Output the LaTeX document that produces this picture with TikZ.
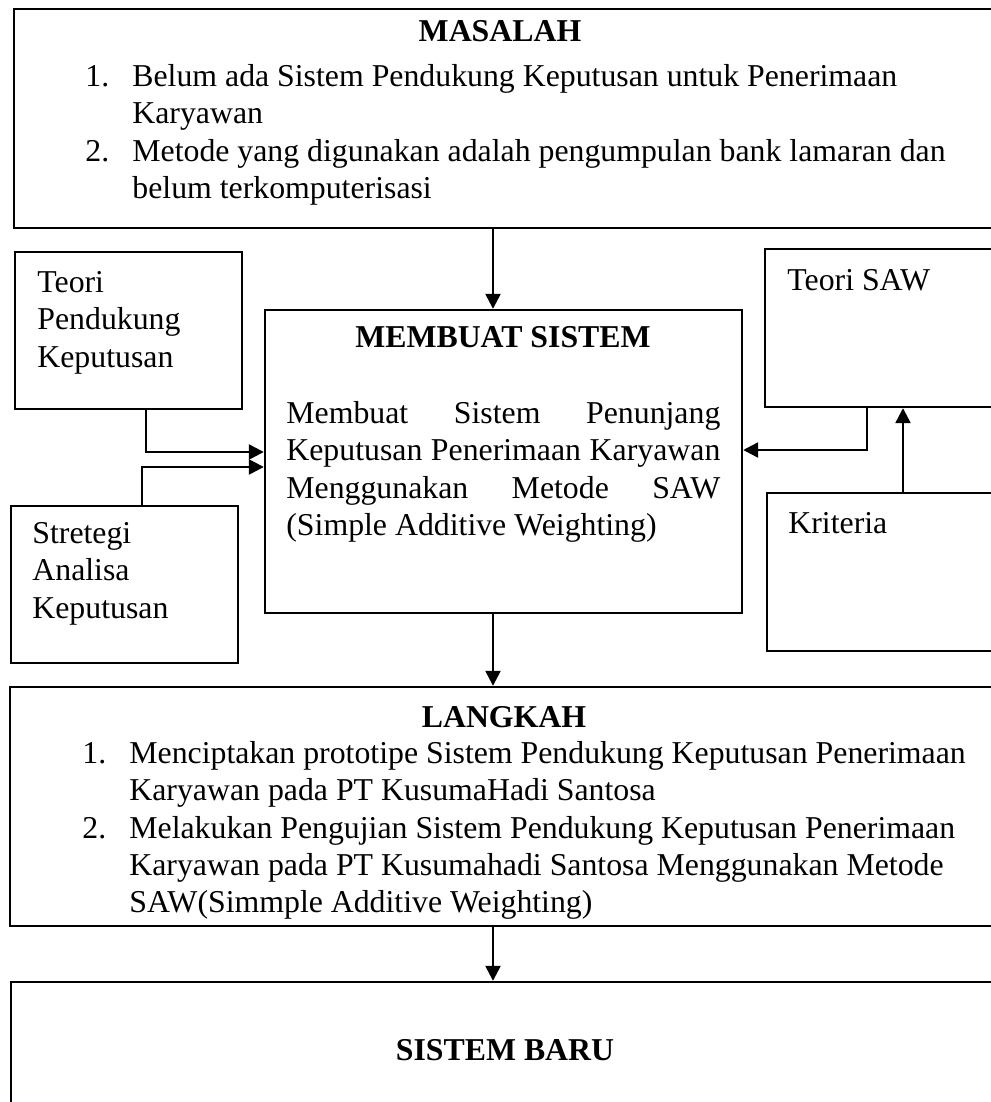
\documentclass[tikz,border=0pt]{standalone}
\usepackage{fontspec}
\setmainfont{Liberation Serif}
\usetikzlibrary{arrows.meta,fit}
\newcommand{\itemno}[1]{\makebox[23.5pt][l]{#1}}
\newcommand{\itemgap}{\hspace*{23.5pt}}

\begin{document}
\begin{tikzpicture}[x=0.5pt, y=-0.5pt,
  frame/.style={draw, line width=1.2pt, inner sep=0pt},
  txt/.style={font=\fontsize{15.9}{18.6}\selectfont, inner sep=0pt, align=left},
  head/.style={font=\fontsize{15.9}{18.6}\selectfont\bfseries, inner sep=0pt},
  arrow/.style={-{Triangle[length=7.5pt,width=7.5pt]}, line width=1.2pt},
]
\useasboundingbox (0,0) rectangle (990,1102);

% Boxes
\node[frame, fit={(14,9) (1000,228)}] (masalah) {};
\node[frame, fit={(15,252) (242,409)}] (teorispk) {};
\node[frame, fit={(11,506) (238,663)}] (stretegi) {};
\node[frame, fit={(265,310) (742,613)}] (membuat) {};
\node[frame, fit={(765,249) (1000,407)}] (teorisaw) {};
\node[frame, fit={(767,493) (1000,651)}] (kriteria) {};
\node[frame, fit={(10,687) (1000,926)}] (langkah) {};
\node[frame, fit={(11,982) (1000,1110)}] (baru) {};

% Texts
\node[head, anchor=base] (tmasalah) at (500,42) {MASALAH};
\node[txt, anchor=north west] (lmasalah) at (85,64.3) {%
  \itemno{1.}Belum ada Sistem Pendukung Keputusan untuk Penerimaan\\
  \itemgap Karyawan\\
  \itemno{2.}Metode yang digunakan adalah pengumpulan bank lamaran dan\\
  \itemgap belum terkomputerisasi};
\node[txt, anchor=north west] (tteorispk) at (37,271.3) {Teori\\Pendukung\\Keputusan};
\node[txt, anchor=north west] (tstretegi) at (32,522.3) {Stretegi\\Analisa\\Keputusan};
\node[head, anchor=base] (tmembuat) at (503,347) {MEMBUAT SISTEM};
\node[txt, anchor=north west] (lmembuat) at (286,401.3) {%
  \makebox[217pt][s]{Membuat Sistem Penunjang}\\
  \makebox[217pt][s]{Keputusan Penerimaan Karyawan}\\
  \makebox[217pt][s]{Menggunakan Metode SAW}\\
  (Simple Additive Weighting)};
\node[txt, anchor=base west] (tteorisaw) at (787,290) {Teori SAW};
\node[txt, anchor=base west] (tkriteria) at (788,533) {Kriteria};
\node[head, anchor=base] (tlangkah) at (504,727) {LANGKAH};
\node[txt, anchor=north west] (llangkah) at (82,741.3) {%
  \itemno{1.}Menciptakan prototipe Sistem Pendukung Keputusan Penerimaan\\
  \itemgap Karyawan pada PT KusumaHadi Santosa\\
  \itemno{2.}Melakukan Pengujian Sistem Pendukung Keputusan Penerimaan\\
  \itemgap Karyawan pada PT Kusumahadi Santosa Menggunakan Metode\\
  \itemgap SAW(Simmple Additive Weighting)};
\node[head, anchor=base] (tbaru) at (505,1060) {SISTEM BARU};

% Connectors
\coordinate (axis) at (493,0);
\coordinate (j1) at (146,452);
\coordinate (j2) at (142,467);
\coordinate (j3) at (867,450);
\coordinate (j4) at (903,0);
\draw[arrow] (masalah.south -| axis) -- (membuat.north -| axis);
\draw[arrow] (teorispk.south -| j1) |- (membuat.west |- j1);
\draw[arrow] (stretegi.north -| j2) |- (membuat.west |- j2);
\draw[arrow] (teorisaw.south -| j3) |- (membuat.east |- j3);
\draw[arrow] (kriteria.north -| j4) -- (teorisaw.south -| j4);
\draw[arrow] (membuat.south -| axis) -- (langkah.north -| axis);
\draw[arrow] (langkah.south -| axis) -- (baru.north -| axis);
\end{tikzpicture}
\end{document}
